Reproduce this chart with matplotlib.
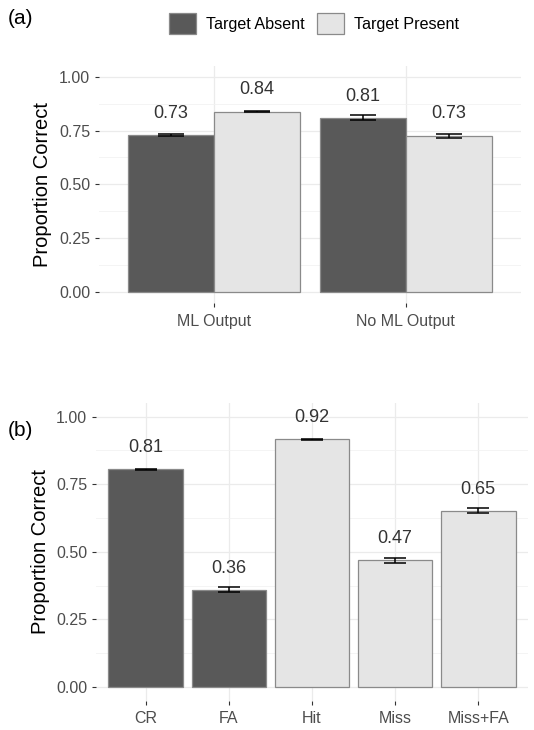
# two-panel bar chart of proportion correct with error bars
import matplotlib
matplotlib.use("Agg")
import matplotlib.pyplot as plt
from matplotlib.patches import Patch
import numpy as np

plt.rcParams['font.family'] = ['Liberation Sans', 'DejaVu Sans']

# panel (a) data
conditions = ["ML Output", "No ML Output"]
absent_vals = [0.73, 0.81]
absent_err = [0.005, 0.012]
present_vals = [0.837, 0.726]
present_err = [0.002, 0.009]

# panel (b) data
outcomes = ["CR", "FA", "Hit", "Miss", "Miss+FA"]
outcome_vals = [0.805, 0.36, 0.916, 0.468, 0.652]
outcome_err = [0.002, 0.01, 0.002, 0.01, 0.01]
outcome_target = ["absent", "absent", "present", "present", "present"]

yticks = [0.0, 0.25, 0.5, 0.75, 1.0]
ytick_labels = ["0.00", "0.25", "0.50", "0.75", "1.00"]

dark = "#595959"
light = "#E5E5E5"
edge = "#8A8A8A"
fills = {"absent": dark, "present": light}

W, H = 534, 730
fig = plt.figure(figsize=(W / 100, H / 100), dpi=100)


def px_axes(left, right, top, bottom):
    return fig.add_axes([left / W, 1 - bottom / H, (right - left) / W, (bottom - top) / H])


def style(ax, xlim, ylabelpad):
    ax.set_xlim(*xlim)
    ax.set_ylim(-0.05, 1.05)
    ax.set_yticks(yticks)
    ax.set_yticklabels(ytick_labels)
    ax.set_yticks([0.125, 0.375, 0.625, 0.875], minor=True)
    for s in ax.spines.values():
        s.set_visible(False)
    ax.grid(True, which="major", color="#EBEBEB", lw=0.9)
    ax.grid(True, which="minor", axis="y", color="#F2F2F2", lw=0.6)
    ax.set_axisbelow(True)
    ax.tick_params(which="major", length=2.9, width=0.8, color="#333333",
                   labelcolor="#4D4D4D", labelsize=11.5, pad=3.5)
    ax.tick_params(axis="x", which="major", pad=5)
    ax.tick_params(which="minor", length=0)
    ax.set_ylabel("Proportion Correct", fontsize=14.5, color="black", labelpad=ylabelpad)


def errbars(ax, xs, vals, errs, w):
    for x, v, e in zip(xs, vals, errs):
        ax.vlines(x, v - e, v + e, color="black", lw=1.1, zorder=4)
        ax.hlines([v - e, v + e], x - w / 2, x + w / 2, color="black", lw=1.1, zorder=4)


def labels(ax, xs, vals):
    for x, v in zip(xs, vals):
        ax.annotate(f"{v:.2f}", (x, v), xytext=(0, 15.5), textcoords="offset points",
                    ha="center", va="center", fontsize=13, color="#333333")


# ---- panel (a)
ax1 = px_axes(99, 521, 66, 302.8)
xa = np.arange(1, len(conditions) + 1)
bw = 0.45
ax1.bar(xa - bw / 2, absent_vals, width=bw, color=dark, edgecolor=edge, lw=0.9, zorder=3)
ax1.bar(xa + bw / 2, present_vals, width=bw, color=light, edgecolor=edge, lw=0.9, zorder=3)
errbars(ax1, xa - bw / 2, absent_vals, absent_err, 0.3 * bw)
errbars(ax1, xa + bw / 2, present_vals, present_err, 0.3 * bw)
labels(ax1, xa - bw / 2, [round(v, 2) for v in absent_vals])
labels(ax1, xa + bw / 2, [round(v, 2) for v in present_vals])
ax1.set_xticks(xa)
ax1.set_xticklabels(conditions)
style(ax1, (0.4, len(conditions) + 0.6), 5)

# ---- panel (b)
ax2 = px_axes(96, 528, 403.2, 700.5)
xb = np.arange(1, len(outcomes) + 1)
ax2.bar(xb, outcome_vals, width=0.9, color=[fills[t] for t in outcome_target],
        edgecolor=edge, lw=0.9, zorder=3)
errbars(ax2, xb, outcome_vals, outcome_err, 0.27)
labels(ax2, xb, outcome_vals)
ax2.set_xticks(xb)
ax2.set_xticklabels(outcomes)
style(ax2, (0.4, len(outcomes) + 0.6), 4)

# panel tags
fig.text(8 / W, 1 - 18 / H, "(a)", fontsize=15, va="center", ha="left")
fig.text(8 / W, 1 - 430 / H, "(b)", fontsize=15, va="center", ha="left")

# legend
handles = [Patch(facecolor=dark, edgecolor=edge, lw=0.9, label="Target Absent"),
           Patch(facecolor=light, edgecolor=edge, lw=0.9, label="Target Present")]
fig.legend(handles=handles, loc="center", bbox_to_anchor=(314 / W, 1 - 23.5 / H), ncol=2,
           frameon=False, fontsize=11.6, handlelength=1.68, handleheight=1.68,
           handletextpad=0.62, columnspacing=0.75, borderpad=0, borderaxespad=0)

fig.savefig("out.png", dpi=100)
